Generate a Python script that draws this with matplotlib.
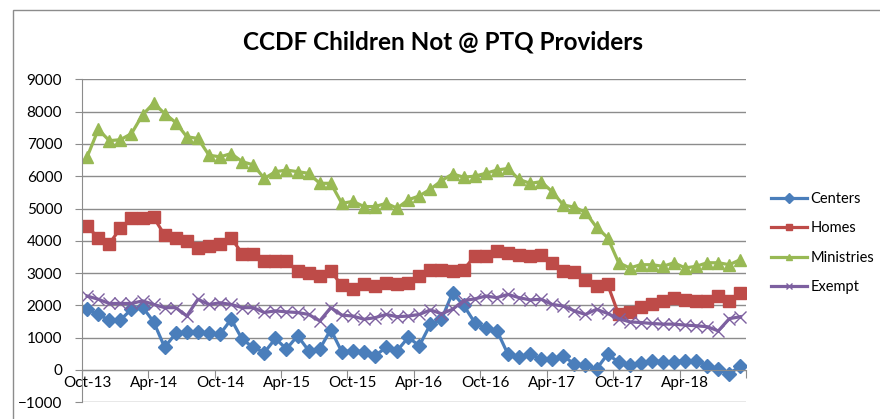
import numpy as np
import pandas as pd
import matplotlib
matplotlib.use("Agg")
import matplotlib.pyplot as plt
from matplotlib.patches import Rectangle

plt.rcParams['font.family'] = ['Lato', 'DejaVu Sans']

# monthly values, Oct-13 .. Sep-18
months = pd.date_range('2013-10-01', periods=60, freq='MS')
month_labels = [m.strftime('%b-%y') for m in months]

centers = [1880, 1720, 1540, 1550, 1880, 1950, 1490, 700, 1140, 1180, 1180, 1140,
           1110, 1570, 950, 700, 540, 975, 650, 1060, 600, 650, 1250, 560,
           600, 560, 440, 700, 600, 1010, 750, 1420, 1570, 2390, 2000, 1470,
           1290, 1220, 490, 390, 490, 340, 340, 440, 180, 150, 30, 490,
           240, 150, 220, 290, 260, 260, 290, 290, 130, 30, -120, 130]
homes = [4450, 4090, 3910, 4390, 4700, 4720, 4730, 4170, 4090, 3980, 3780, 3830,
         3910, 4090, 3600, 3600, 3370, 3370, 3370, 3060, 2990, 2910, 3060, 2620,
         2520, 2650, 2600, 2700, 2650, 2700, 2910, 3110, 3110, 3060, 3110, 3520,
         3520, 3680, 3620, 3570, 3540, 3570, 3300, 3060, 3030, 2800, 2600, 2650,
         1720, 1800, 1960, 2030, 2140, 2240, 2170, 2140, 2140, 2290, 2140, 2370]
ministries = [6600, 7450, 7100, 7130, 7320, 7900, 8260, 7940, 7660, 7220, 7170, 6650,
              6600, 6700, 6450, 6350, 5930, 6140, 6190, 6140, 6090, 5780, 5780, 5160,
              5220, 5060, 5060, 5160, 5010, 5270, 5390, 5600, 5860, 6070, 5970, 6000,
              6090, 6190, 6240, 5900, 5780, 5830, 5520, 5110, 5040, 4880, 4420, 4100,
              3320, 3160, 3260, 3260, 3210, 3320, 3160, 3210, 3320, 3320, 3260, 3420]
exempt = [2290, 2190, 2060, 2060, 2060, 2140, 2030, 1930, 1930, 1670, 2190, 2030,
          2080, 2030, 1930, 1930, 1780, 1830, 1800, 1780, 1720, 1520, 1930, 1700,
          1670, 1570, 1620, 1720, 1650, 1670, 1720, 1860, 1740, 1880, 2150, 2200,
          2290, 2240, 2340, 2240, 2170, 2190, 2030, 1980, 1830, 1720, 1880, 1750,
          1590, 1490, 1470, 1440, 1420, 1420, 1390, 1370, 1340, 1210, 1590, 1650]

fig = plt.figure(figsize=(8.8, 4.19), dpi=100)
ax = fig.add_axes([0.0928, 0.0399, 0.8477 - 0.0928, 0.8107 - 0.0399])

# chart border (only top/left edges visible in the crop)
fig.patches.append(Rectangle((13 / 880, -0.1), 1.2, 1 - 10 / 419 + 0.1,
                             transform=fig.transFigure, fill=False,
                             edgecolor='#8c8c8c', linewidth=1))

x = np.arange(len(months)) + 0.5
ax.plot(x, centers, color='#4A7EBB', lw=2.3, marker='D', ms=7.5, label='Centers')
ax.plot(x, homes, color='#BE4B48', lw=2.3, marker='s', ms=8, label='Homes')
ax.plot(x, ministries, color='#98B954', lw=2.3, marker='^', ms=9, label='Ministries')
ax.plot(x, exempt, color='#7D60A0', lw=2.3, marker='x', ms=8, mew=1, label='Exempt')

ax.set_xlim(0, 60)
ax.set_ylim(-1000, 9000)
ax.set_yticks(range(-1000, 9001, 1000))
ax.grid(axis='y', color='#8c8c8c', lw=1)
ax.set_axisbelow(True)

ax.set_xticks(range(0, 61, 6))
ax.set_xticklabels([])
ax.set_xticks(x[::6], minor=True)
ax.set_xticklabels(month_labels[::6], minor=True)
ax.tick_params(axis='x', which='major', length=6, color='#8c8c8c', direction='out')
ax.tick_params(axis='x', which='minor', length=0, pad=4, labelsize=11)
ax.tick_params(axis='y', length=5, color='#8c8c8c', pad=9, labelsize=11)

ax.spines['bottom'].set_position(('data', 0))
ax.spines['bottom'].set_color('#8c8c8c')
ax.spines['left'].set_color('#8c8c8c')
ax.spines['top'].set_visible(False)
ax.spines['right'].set_visible(False)

fig.text(0.503, 1 - 42 / 419, 'CCDF Children Not @ PTQ Providers', ha='center',
         va='center', fontsize=17.5, fontweight='bold')

leg = ax.legend(loc='upper left', bbox_to_anchor=(771 / 880, 1 - 192 / 419),
                bbox_transform=fig.transFigure, frameon=False, fontsize=10.5,
                handlelength=2.5, handletextpad=0.2, labelspacing=1.05,
                borderaxespad=0, borderpad=0)
for h in leg.legend_handles:
    h.set_markersize(5)

fig.savefig('out.png', dpi=100)
